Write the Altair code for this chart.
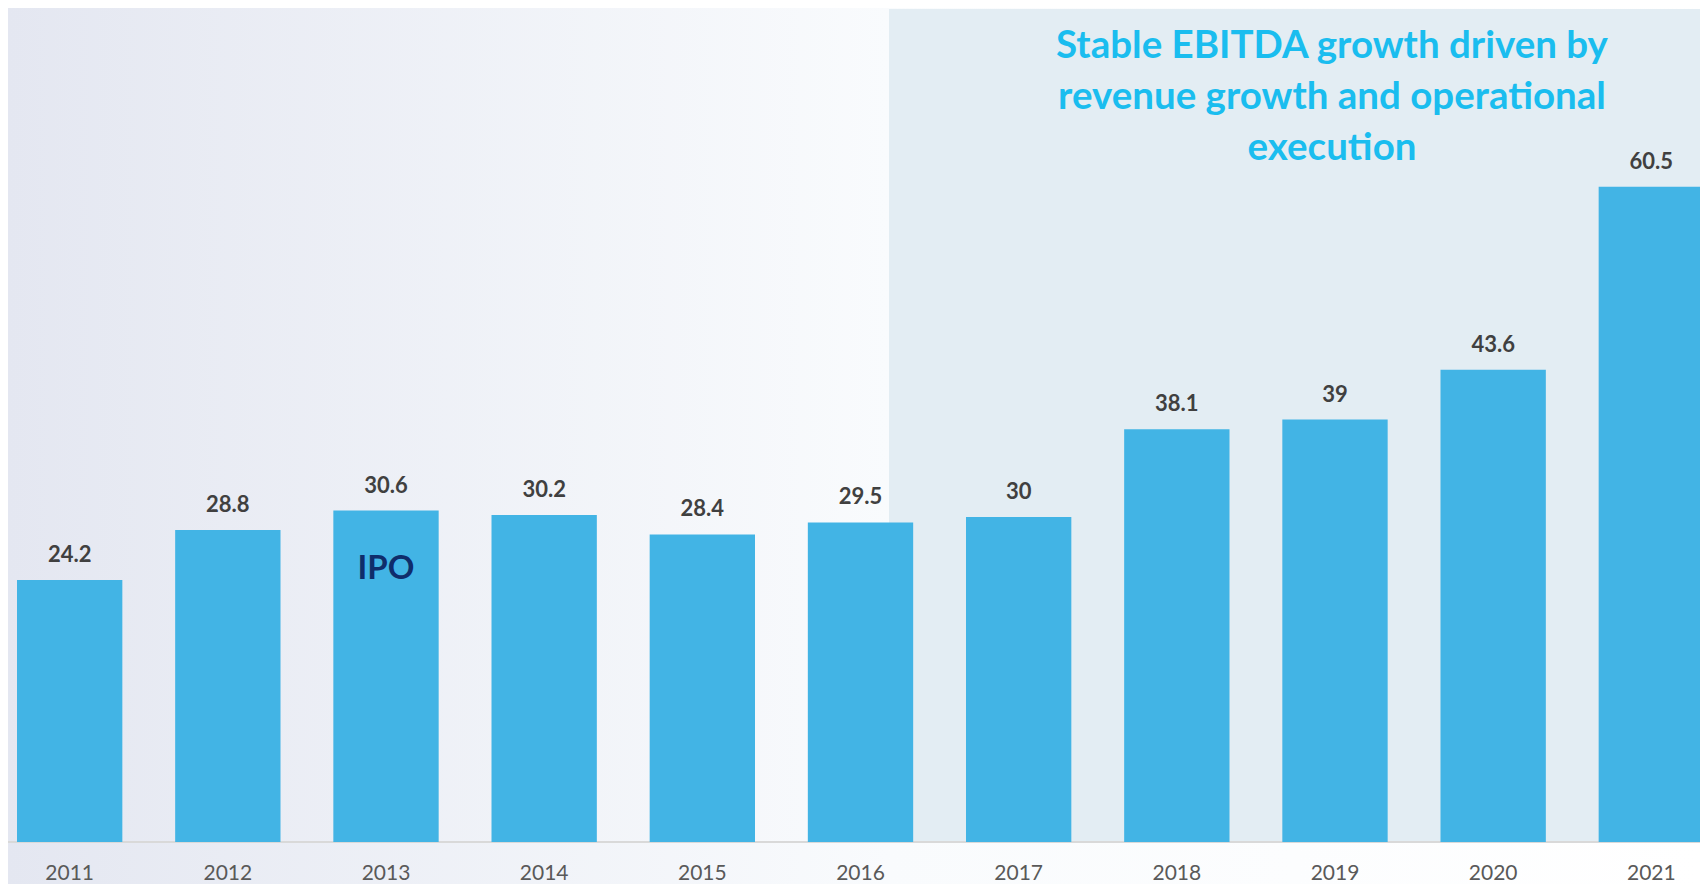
import altair as alt
import pandas as pd

# ---- data ----
years = ["2011", "2012", "2013", "2014", "2015", "2016", "2017", "2018", "2019", "2020", "2021"]
ebitda = [24.2, 28.8, 30.6, 30.2, 28.4, 29.5, 30, 38.1, 39, 43.6, 60.5]
value_labels = ["24.2", "28.8", "30.6", "30.2", "28.4", "29.5", "30", "38.1", "39", "43.6", "60.5"]
title_lines = ["Stable EBITDA growth driven by", "revenue growth and operational", "execution"]
ipo_year = ["2013"]
ipo_text = ["IPO"]

W, H = 1692, 834
TOTAL_H = 876
FONT = "Lato"

df = pd.DataFrame({"year": years, "value": ebitda, "label": value_labels})
one = pd.DataFrame({"a": [0]})

x_scale = alt.Scale(domain=years, range=[9, 1696], paddingInner=0.334, paddingOuter=0)
y_scale = alt.Scale(domain=[0, 77], nice=False)

x_axis = alt.Axis(title=None, labelAngle=0, ticks=False, tickSize=0, domain=False, grid=False,
                  labelFont=FONT, labelFontSize=21, labelColor="#595959", labelPadding=20,
                  zindex=2)

bg = alt.Chart(one).mark_rect(
    fill=alt.Gradient(
        gradient="linear",
        stops=[alt.GradientStop(color="#E4E7F1", offset=0),
               alt.GradientStop(color="#F9FBFD", offset=0.52),
               alt.GradientStop(color="#FFFFFF", offset=1)],
        x1=0, x2=1, y1=0, y2=0)
).encode(x=alt.value(0), x2=alt.value(W), y=alt.value(0), y2=alt.value(TOTAL_H))

panel = alt.Chart(one).mark_rect(fill="#E3EDF3").encode(
    x=alt.value(881), x2=alt.value(W), y=alt.value(1), y2=alt.value(H))

baseline = alt.Chart(one).mark_rule(color="#D9D9D9", strokeWidth=2).encode(
    x=alt.value(0), x2=alt.value(W), y=alt.value(H))

bars = alt.Chart(df).mark_bar(color="#42B4E5").encode(
    x=alt.X("year:N", scale=x_scale, axis=x_axis, sort=years),
    y=alt.Y("value:Q", scale=y_scale, axis=None),
)

vals = alt.Chart(df).mark_text(font=FONT, fontSize=22, fontWeight="bold", color="#404040",
                               baseline="middle", dy=-25).encode(
    x=alt.X("year:N", scale=x_scale, sort=years),
    y=alt.Y("value:Q", scale=y_scale),
    text="label:N",
)

ipo = alt.Chart(pd.DataFrame({"year": ipo_year, "t": ipo_text})).mark_text(
    font=FONT, fontSize=33, fontWeight="bold", color="#0F2D6B", baseline="middle").encode(
    x=alt.X("year:N", scale=x_scale, sort=years),
    y=alt.value(561),
    text="t:N",
)

title = alt.Chart(pd.DataFrame({"t": ["\n".join(title_lines)]})).mark_text(
    font=FONT, fontSize=38.5, fontWeight="bold", color="#1ABDEF", align="center",
    baseline="middle", lineBreak="\n", lineHeight=51).encode(
    x=alt.value(1324), y=alt.value(38), text="t:N")

chart = alt.layer(bg, panel, baseline, bars, vals, ipo, title).properties(
    width=W, height=H,
    autosize=alt.AutoSizeParams(type="none"),
    padding={"left": 0, "top": 0, "right": 0, "bottom": TOTAL_H - H},
    background="#FFFFFF",
).configure_view(stroke=None)

chart.save("out.html", embed_options={"renderer": "svg", "actions": False})
